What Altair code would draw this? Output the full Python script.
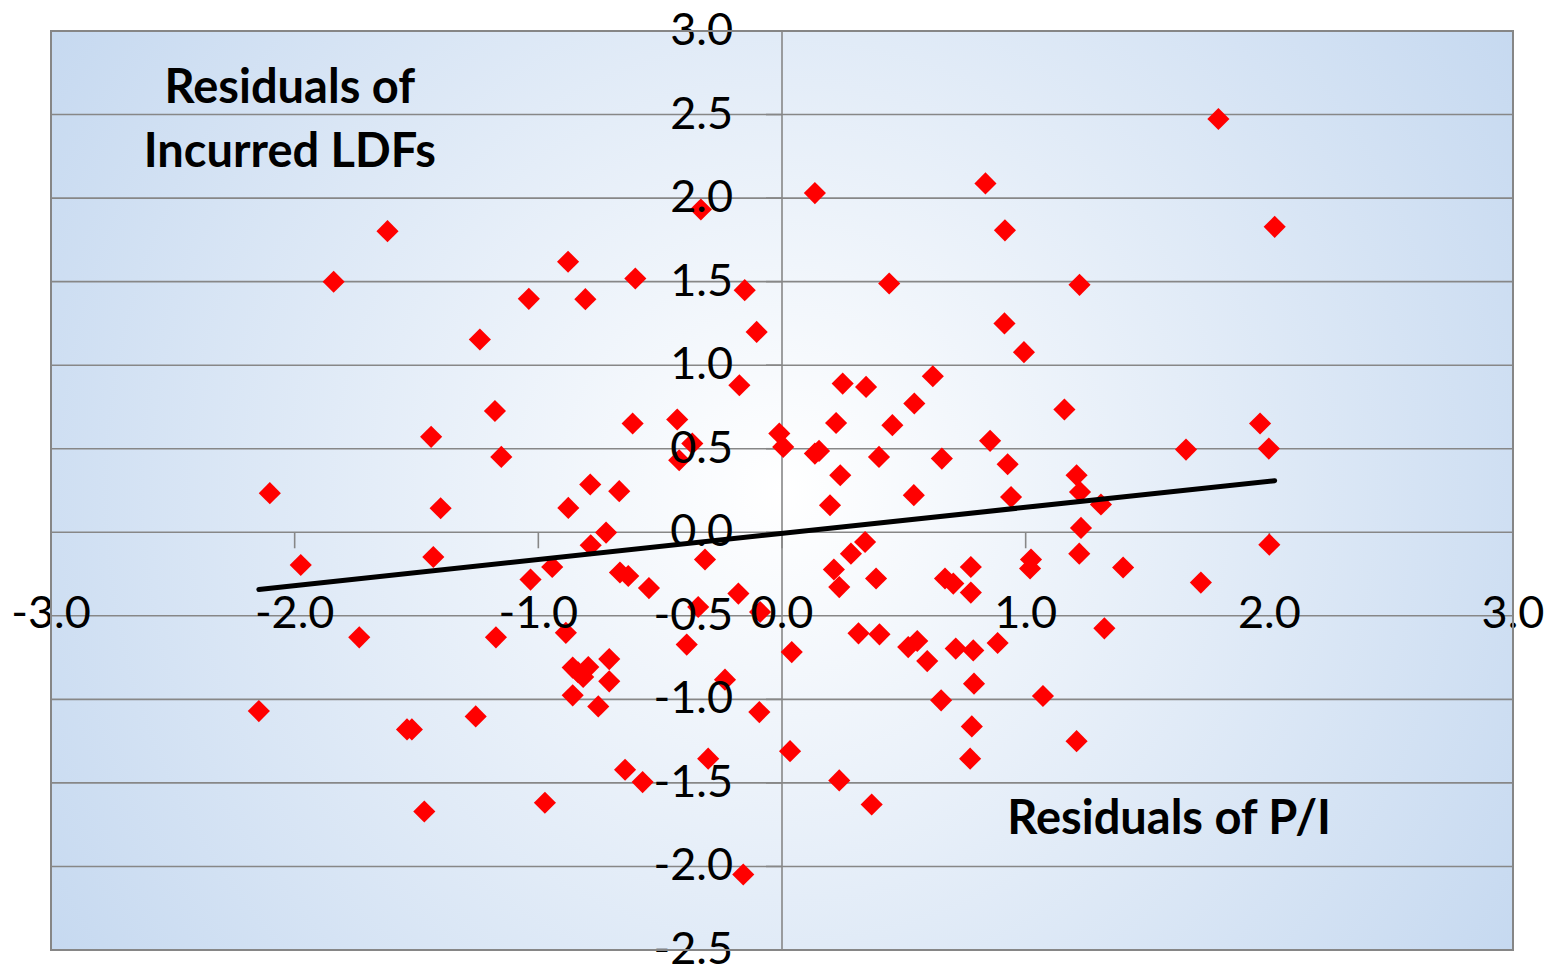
import altair as alt
import pandas as pd

# ---------------- data ----------------
x_resid = [1.791, 2.022, 0.835, 0.135, -0.333, 0.915, -1.619, -1.840, -0.878, -0.602,
           -0.807, -1.039, -0.153, 0.440, 1.221, -0.104, -1.240, 0.913, 0.993, 0.619,
           -0.175, 0.249, 0.345, 0.543, -1.178, 1.159, -0.430, -0.613, 0.222, 0.453,
           1.962, -1.440, -0.011, -0.368, 0.854, 0.005, 0.135, 0.152, 1.658, 1.998,
           -1.152, -0.422, 0.398, 0.656, 0.926, 0.239, 1.209, -2.102, -0.787, -0.668,
           1.223, 0.541, 0.940, -1.401, -0.877, 0.197, 1.309, -0.722, 1.227, 0.341,
           -0.785, 2.000, 0.283, 1.220, 1.022, -1.975, -1.431, -0.316, -0.943, 1.018,
           1.400, 0.213, 0.775, -0.665, -0.631, -1.032, 0.386, 0.669, 0.703, 0.235,
           -0.546, 1.719, 0.775, -0.179, -0.090, -0.344, -1.735, -1.174, -0.887, 0.314,
           0.400, 1.323, -0.391, 0.555, 0.518, 0.885, 0.713, 0.785, 0.040, 0.596,
           -0.709, -0.859, -0.795, -0.816, -0.837, -0.709, -0.234, 0.788, -0.859, 1.071,
           0.653, -0.754, -2.147, -0.093, -1.257, 0.779, -1.539, -1.519, 1.209, 0.033,
           -0.303, 0.772, -0.644, -0.572, 0.235, -0.973, 0.368, -1.468, -0.159]
y_resid = [2.473, 1.828, 2.088, 2.030, 1.932, 1.807, 1.802, 1.499, 1.619, 1.519,
           1.395, 1.397, 1.449, 1.489, 1.481, 1.199, 1.154, 1.250, 1.078, 0.934,
           0.880, 0.890, 0.870, 0.771, 0.726, 0.735, 0.675, 0.651, 0.654, 0.641,
           0.651, 0.571, 0.591, 0.531, 0.547, 0.511, 0.471, 0.487, 0.495, 0.501,
           0.451, 0.431, 0.451, 0.441, 0.407, 0.341, 0.341, 0.234, 0.286, 0.246,
           0.241, 0.222, 0.211, 0.144, 0.146, 0.162, 0.166, -0.002, 0.026, -0.058,
           -0.078, -0.074, -0.128, -0.128, -0.163, -0.196, -0.148, -0.163, -0.208, -0.217,
           -0.211, -0.223, -0.208, -0.241, -0.262, -0.283, -0.277, -0.277, -0.307, -0.328,
           -0.334, -0.301, -0.361, -0.367, -0.477, -0.447, -0.629, -0.629, -0.602, -0.605,
           -0.611, -0.575, -0.672, -0.651, -0.687, -0.663, -0.696, -0.707, -0.717, -0.771,
           -0.759, -0.810, -0.807, -0.866, -0.838, -0.892, -0.882, -0.906, -0.976, -0.980,
           -1.006, -1.042, -1.070, -1.076, -1.102, -1.162, -1.180, -1.180, -1.250, -1.310,
           -1.355, -1.355, -1.421, -1.495, -1.485, -1.619, -1.629, -1.671, -2.048]

trend_x = [-2.147, 2.022]
trend_y = [-0.342, 0.309]

x_domain = [-3.0, 3.0]
y_domain = [-2.5, 3.0]
x_ticks = [-3.0, -2.0, -1.0, 0.0, 1.0, 2.0, 3.0]
x_tick_labels = ["-3.0", "-2.0", "-1.0", "0.0", "1.0", "2.0", "3.0"]
y_ticks = [-2.5, -2.0, -1.5, -1.0, -0.5, 0.0, 0.5, 1.0, 1.5, 2.0, 2.5, 3.0]
y_tick_labels = ["-2.5", "-2.0", "-1.5", "-1.0", "-0.5", "0.0", "0.5", "1.0",
                 "1.5", "2.0", "2.5", "3.0"]

note_text = ["Residuals of\nIncurred LDFs", "Residuals of P/I"]
note_x = [-2.02, 1.589]
note_y = [2.569, -1.808]

# ---------------- styling ----------------
W, H = 1462, 919
FONT = "Lato"
GRID = "#878787"
EDGE = "#c6d9f0"

xs = alt.Scale(domain=x_domain, nice=False, zero=False)
ys = alt.Scale(domain=y_domain, nice=False, zero=False)


def X(f):
    return alt.X(f, type="quantitative", scale=xs, axis=None)


def Y(f):
    return alt.Y(f, type="quantitative", scale=ys, axis=None)


frame_df = pd.DataFrame({"x0": [x_domain[0]], "x1": [x_domain[1]],
                         "y0": [y_domain[0]], "y1": [y_domain[1]]})

bg = alt.Chart(frame_df).mark_rect(
    fill=alt.RadialGradient(
        gradient="radial",
        stops=[alt.GradientStop(color="#ffffff", offset=0),
               alt.GradientStop(color=EDGE, offset=1)],
        x1=0.5, y1=0.5, r1=0, x2=0.5, y2=0.5, r2=0.59)
).encode(x=X("x0"), x2="x1", y=Y("y0"), y2="y1")

grid_df = pd.DataFrame({"v": y_ticks, "x0": x_domain[0], "x1": x_domain[1]})
grid = alt.Chart(grid_df).mark_rule(color=GRID, strokeWidth=1.6).encode(
    y=Y("v"), x=X("x0"), x2="x1")

yaxis_df = pd.DataFrame({"x": [0.0], "y0": [y_domain[0]], "y1": [y_domain[1]]})
yaxis = alt.Chart(yaxis_df).mark_rule(color=GRID, strokeWidth=1.6).encode(
    x=X("x"), y=Y("y0"), y2="y1")

xt_df = pd.DataFrame({"v": x_ticks, "lab": x_tick_labels, "z": 0.0})
yt_df = pd.DataFrame({"v": y_ticks, "lab": y_tick_labels, "z": 0.0})

xticks = alt.Chart(xt_df).mark_rule(color=GRID, strokeWidth=1.6, y2Offset=16).encode(
    x=X("v"), y=Y("z"), y2="z")
yticks = alt.Chart(yt_df).mark_rule(color=GRID, strokeWidth=1.6, x2Offset=-16).encode(
    y=Y("v"), x=X("z"), x2="z")

pts_df = pd.DataFrame({"x": x_resid, "y": y_resid})
points = alt.Chart(pts_df).mark_point(
    shape="diamond", filled=True, color="#ff0000", size=490, opacity=1
).encode(x=X("x"), y=Y("y"))

trend_df = pd.DataFrame({"x": trend_x, "y": trend_y})
trend = alt.Chart(trend_df).mark_line(
    color="#000000", strokeWidth=5, strokeCap="round").encode(x=X("x"), y=Y("y"))

xlabels = alt.Chart(xt_df).mark_text(
    font=FONT, fontSize=45, color="#000000", align="center", baseline="middle", dy=82
).encode(x=X("v"), y=Y("z"), text="lab:N")
ylabels = alt.Chart(yt_df).mark_text(
    font=FONT, fontSize=45, color="#000000", align="right", baseline="middle", dx=-49
).encode(y=Y("v"), x=X("z"), text="lab:N")

notes_df = pd.DataFrame({"x": note_x, "y": note_y, "t": note_text})
notes = alt.Chart(notes_df).mark_text(
    font=FONT, fontSize=47, fontWeight="bold", color="#000000", align="center",
    baseline="alphabetic", lineBreak="\n", lineHeight=64
).encode(x=X("x"), y=Y("y"), text="t:N")

border = alt.Chart(frame_df).mark_rect(
    fillOpacity=0, stroke="#868686", strokeWidth=2
).encode(x=X("x0"), x2="x1", y=Y("y0"), y2="y1")

chart = alt.layer(
    bg, grid, yaxis, xticks, yticks, points, trend, xlabels, ylabels, notes, border
).properties(
    width=W, height=H,
    autosize=alt.AutoSizeParams(type="none"),
    padding={"left": 43, "top": 23, "right": 33, "bottom": 17},
).configure_view(stroke="transparent").configure(background="#ffffff")

chart.save("out.html", embed_options={"renderer": "svg", "actions": False})
